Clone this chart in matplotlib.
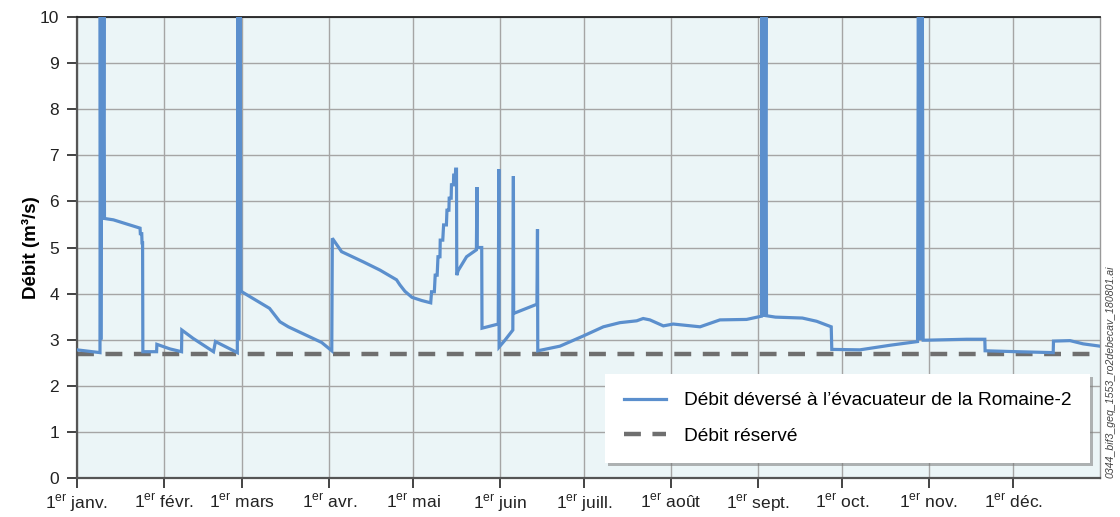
import matplotlib
matplotlib.use("Agg")
import matplotlib.pyplot as plt
from matplotlib.lines import Line2D

plt.rcParams['font.family'] = ['Liberation Sans', 'DejaVu Sans']

# ---- data (day of year, flow m3/s) ----
days = [0, 8.2, 8.3, 8.5, 8.9, 9.3, 9.6, 9.8, 13, 22.5, 22.6, 23.1, 23.2, 23.4, 23.5,
        28.4, 28.5, 33.2, 37.3, 37.4, 41.4, 48.7, 49.4, 57.2, 57.4, 57.7, 58.2, 58.5, 58.8,
        68.7, 72.4, 75.4, 83.1, 87.3, 90.9, 91.1, 94.4, 102.1, 108.1, 114.0, 115.2, 117, 119.5, 123, 126.2,
        126.5, 127.5, 127.8, 128.5, 128.8, 129.5, 129.6, 130.5, 130.8, 131.8, 132.0, 132.7, 132.8, 133.5,
        133.6, 134.3, 134.4, 135.0, 135.1, 135.4, 135.5, 136, 139, 142.5, 142.7, 142.8, 144.4, 144.5,
        150.3, 150.5, 150.6, 152.7, 155.5, 155.7, 155.8, 164.1, 164.3, 164.4,
        172.3, 180.6, 187.8, 193.7, 199.7, 202.0, 204.4, 209.2, 212.7, 222.3, 229.4, 238.9, 244.2,
        244.4, 244.7, 245.1, 245.4, 245.8, 246.0,
        249.2, 258.8, 263.9, 269.1, 269.3, 279.3, 290.1, 299.9,
        300.2, 300.5, 300.9, 301.2, 301.6, 301.9,
        303.2, 317.4, 323.9, 324.0, 335.3, 348.3, 348.4, 354.3, 359.0, 365]
flow = [2.78, 2.72, 10.5, 3.0, 10.5, 5.6, 10.5, 5.63, 5.6, 5.42, 5.3, 5.3, 5.1, 5.1, 2.74,
        2.74, 2.9, 2.8, 2.74, 3.21, 3.03, 2.74, 2.96, 2.72, 10.5, 3.0, 10.5, 4.04, 4.04,
        3.68, 3.39, 3.28, 3.06, 2.94, 2.76, 5.2, 4.91, 4.69, 4.51, 4.30, 4.19, 4.05, 3.92, 3.85, 3.80,
        4.04, 4.04, 4.40, 4.40, 4.80, 4.80, 5.16, 5.16, 5.49, 5.49, 5.81, 5.81, 6.07, 6.07,
        6.36, 6.36, 6.57, 6.57, 6.70, 6.70, 4.40, 4.5, 4.80, 4.95, 6.31, 5.0, 5.0, 3.25,
        3.34, 6.70, 2.84, 2.99, 3.21, 6.55, 3.57, 3.77, 5.40, 2.76,
        2.86, 3.08, 3.28, 3.37, 3.41, 3.46, 3.43, 3.30, 3.34, 3.28, 3.43, 3.44, 3.51,
        10.5, 3.5, 10.5, 3.5, 10.5, 3.52,
        3.49, 3.47, 3.40, 3.28, 2.79, 2.78, 2.88, 2.96,
        10.5, 3.0, 10.5, 3.0, 10.5, 2.99,
        2.99, 3.01, 3.01, 2.76, 2.74, 2.72, 2.97, 2.98, 2.91, 2.86]
reserved_flow = 2.7

month_starts = [0, 31, 59, 90, 120, 151, 181, 212, 243, 273, 304, 334]
month_names = ['janv.', 'févr.', 'mars', 'avr.', 'mai', 'juin', 'juill.', 'août',
               'sept.', 'oct.', 'nov.', 'déc.']
month_labels = [r'1$^{\mathregular{er}}$ ' + m for m in month_names]

label_main = "Débit déversé à l’évacuateur de la Romaine-2"
label_res = "Débit réservé"

# ---- figure ----
fig = plt.figure(figsize=(11.2, 5.17), dpi=100)
ax = fig.add_axes([0.06875, 0.0754, 0.9134, 0.8917])
ax.set_facecolor('#EBF5F7')

blue = '#5B8FCD'
grey = '#6F6F6F'

ax.plot(days, flow, color=blue, lw=2.3, solid_joinstyle='miter', zorder=3)
ax.axhline(reserved_flow, color=grey, lw=3.2, ls=(0, (3.8, 2.6)), zorder=2.5)

ax.set_xlim(0, 365)
ax.set_ylim(0, 10)
ax.set_yticks(range(0, 11))
ax.set_xticks(month_starts)
ax.set_xticklabels(month_labels)

ax.grid(True, color='#A5A5A5', lw=1.0, zorder=1)
ax.set_axisbelow(True)

ax.tick_params(axis='both', labelsize=12.5, colors='#222222', length=7, width=1.2, direction='out')
ax.tick_params(axis='x', pad=4)
ax.tick_params(axis='y', pad=6)

for s in ['left', 'bottom']:
    ax.spines[s].set_color('#555555')
    ax.spines[s].set_linewidth(1.6)
ax.spines['top'].set_color('#222222')
ax.spines['top'].set_linewidth(1.3)
ax.spines['right'].set_color('#999999')
ax.spines['right'].set_linewidth(1.0)

ax.set_ylabel('Débit (m³/s)', fontsize=13.5, fontweight='bold', labelpad=0)

handles = [Line2D([], [], color=blue, lw=2.3),
           Line2D([], [], color=grey, lw=3.2, ls=(0, (3.8, 2.6)))]
leg = ax.legend(handles, [label_main, label_res], loc='lower right',
                bbox_to_anchor=(0.990, 0.032), fontsize=13.8, frameon=True,
                fancybox=False, shadow={'color': '#7a7a7a', 'alpha': 0.55},
                framealpha=1, edgecolor='white',
                borderpad=0.95, labelspacing=0.95, handlelength=2.2, handletextpad=0.95,
                borderaxespad=0)
leg.get_frame().set_linewidth(0)
leg._legend_box.sep = 0

fig.text(0.9915, 0.28, '0344_bif3_geq_1553_ro2debecav_180801.ai', rotation=90,
         fontsize=7.6, style='italic', color='#444444', ha='center', va='center')

fig.savefig('out.png', dpi=100)
